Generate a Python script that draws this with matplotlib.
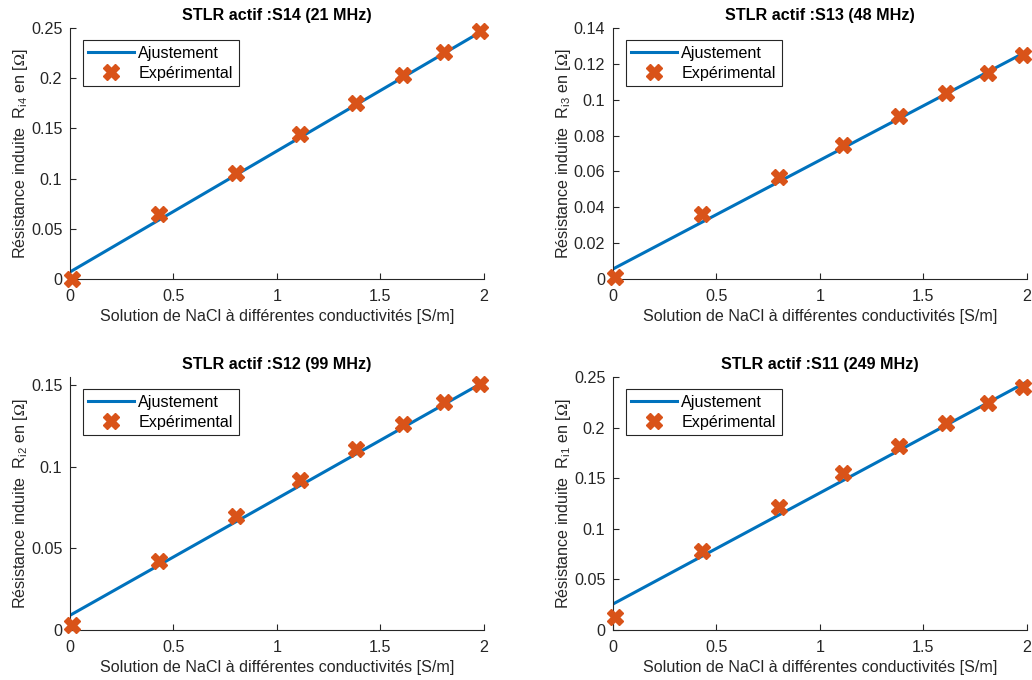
import numpy as np
import matplotlib
matplotlib.use("Agg")
import matplotlib.pyplot as plt

plt.rcParams['font.family'] = ['Liberation Sans', 'DejaVu Sans']
plt.rcParams['mathtext.fontset'] = 'stix'

# Conductivités des solutions NaCl [S/m]
conductivity = [0.01, 0.43, 0.80, 1.11, 1.38, 1.61, 1.81, 1.98]

# Résistances induites mesurées [Ohm]
r_i4 = [0.000, 0.065, 0.106, 0.144, 0.175, 0.203, 0.226, 0.247]
r_i3 = [0.001, 0.036, 0.057, 0.075, 0.091, 0.104, 0.115, 0.125]
r_i2 = [0.003, 0.042, 0.070, 0.092, 0.111, 0.126, 0.140, 0.151]
r_i1 = [0.013, 0.078, 0.122, 0.155, 0.182, 0.205, 0.224, 0.240]

# Ajustement linéaire (pente, ordonnée à l'origine)
fit_i4 = (0.1205, 0.007)
fit_i3 = (0.0607, 0.0056)
fit_i2 = (0.0715, 0.009)
fit_i1 = (0.1098, 0.0257)

titles = ["STLR actif :S14 (21 MHz)", "STLR actif :S13 (48 MHz)",
          "STLR actif :S12 (99 MHz)", "STLR actif :S11 (249 MHz)"]
subs = ["i4", "i3", "i2", "i1"]
ylims = [0.25, 0.14, 0.155, 0.25]
yticks = [np.arange(0, 0.26, 0.05), np.arange(0, 0.141, 0.02),
          np.arange(0, 0.151, 0.05), np.arange(0, 0.26, 0.05)]

blue = "#0072BD"
orange = "#D95319"
dark = "#262626"
fs = 11.6

fig = plt.figure(figsize=(10.32, 6.8), dpi=100)
positions = [[0.0678, 0.5897, 0.401, 0.369],
             [0.594, 0.5897, 0.401, 0.369],
             [0.0678, 0.0735, 0.401, 0.372],
             [0.594, 0.0735, 0.401, 0.372]]

data = [r_i4, r_i3, r_i2, r_i1]
fits = [fit_i4, fit_i3, fit_i2, fit_i1]

for k in range(4):
    ax = fig.add_axes(positions[k])
    xf = np.array([0, 2])
    slope, icpt = fits[k]
    ax.plot(xf, slope * xf + icpt, color=blue, lw=2.2, label="Ajustement")
    ax.plot(conductivity, data[k], 'X', color=orange, ms=12, mec=orange,
            linestyle='none', clip_on=False, zorder=5, label="Expérimental")

    ax.set_xlim(0, 2)
    ax.set_ylim(0, ylims[k])
    ax.set_xticks([0, 0.5, 1, 1.5, 2])
    ax.set_xticklabels(["0", "0.5", "1", "1.5", "2"])
    ax.set_yticks(yticks[k])
    ax.set_yticklabels(["%g" % round(v, 3) for v in yticks[k]])

    for s in ['top', 'right']:
        ax.spines[s].set_visible(False)
    for s in ['left', 'bottom']:
        ax.spines[s].set_color(dark)
        ax.spines[s].set_linewidth(0.8)
    ax.tick_params(direction='in', length=4, colors=dark, labelsize=fs)
    ax.tick_params(axis='x', pad=7)
    ax.tick_params(axis='y', pad=5.5)

    ax.set_title(titles[k], fontsize=fs, fontweight='bold', color='black', pad=6)
    ax.set_xlabel("Solution de NaCl à différentes conductivités [S/m]",
                  fontsize=fs, color=dark, labelpad=4)
    ax.set_ylabel(r"Résistance induite  R$_{\mathregular{%s}}$ en [$\Omega$]" % subs[k],
                  fontsize=fs, color=dark, labelpad=0.5)

    leg = ax.legend(loc='upper left', bbox_to_anchor=(0.031, 0.952), fontsize=fs,
                    handlelength=2.8, fancybox=False, framealpha=1,
                    edgecolor=dark, borderpad=0.35, labelspacing=0.3,
                    handletextpad=0.3, borderaxespad=0)
    leg.get_frame().set_linewidth(0.8)

fig.savefig("out.png", dpi=100)
